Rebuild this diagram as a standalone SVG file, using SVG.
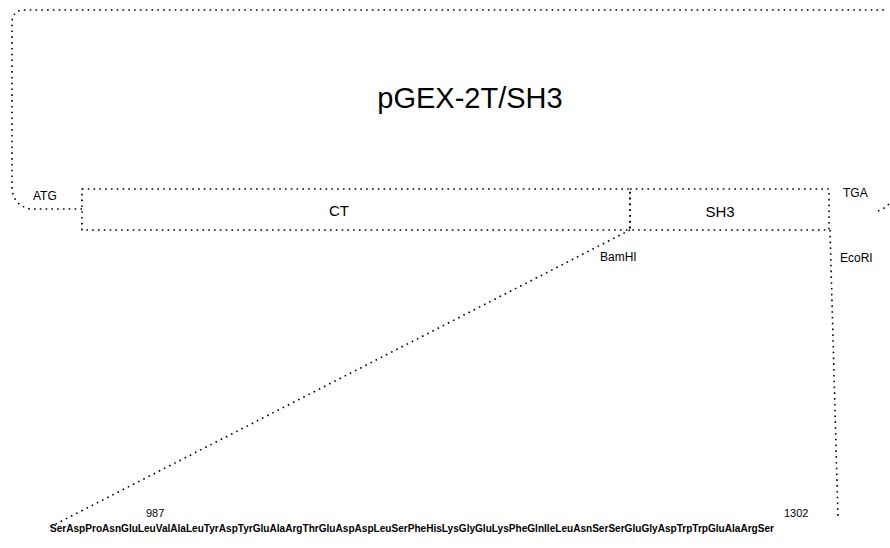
<svg xmlns="http://www.w3.org/2000/svg" width="890" height="548" viewBox="0 0 890 548">
<style>
.dot{fill:none;stroke:#000;stroke-width:1.6;stroke-dasharray:1.6 4.2;stroke-linecap:butt}
.t{font-family:"Liberation Sans",Arial,sans-serif;fill:#000}
</style>
<rect width="890" height="548" fill="#fff"/>
<g id="connectors">
<path class="dot" d="M82,209 H30 Q13,205 12,188 V22 Q13,10 24,10 H886"/>
<path class="dot" d="M878,211 Q884,209 889,204"/>
<path class="dot" d="M630,230 L48,528"/>
<path class="dot" d="M830,230 L838,518"/>
</g>
<g id="title"><text class="t" x="470" y="108" font-size="29" text-anchor="middle">pGEX-2T/SH3</text></g>
<g id="ct"><rect x="82" y="189" width="548" height="41" class="dot"/><text class="t" x="339" y="216" font-size="15" text-anchor="middle">CT</text></g>
<g id="sh3"><rect x="630" y="189" width="199" height="41" class="dot"/><text class="t" x="720" y="217" font-size="15" text-anchor="middle">SH3</text></g>
<g id="labels">
<text class="t" x="33" y="200" font-size="12">ATG</text>
<text class="t" x="843" y="197" font-size="12">TGA</text>
<text class="t" x="600" y="261" font-size="12">BamHI</text>
<text class="t" x="840" y="262" font-size="12">EcoRI</text>
<text class="t" x="146" y="517" font-size="11">987</text>
<text class="t" x="784" y="517" font-size="11">1302</text>
<text class="t" x="50" y="532" font-size="10" font-weight="bold" textLength="724" lengthAdjust="spacingAndGlyphs">SerAspProAsnGluLeuValAlaLeuTyrAspTyrGluAlaArgThrGluAspAspLeuSerPheHisLysGlyGluLysPheGlnIleLeuAsnSerSerGluGlyAspTrpTrpGluAlaArgSer</text>
</g>
</svg>
